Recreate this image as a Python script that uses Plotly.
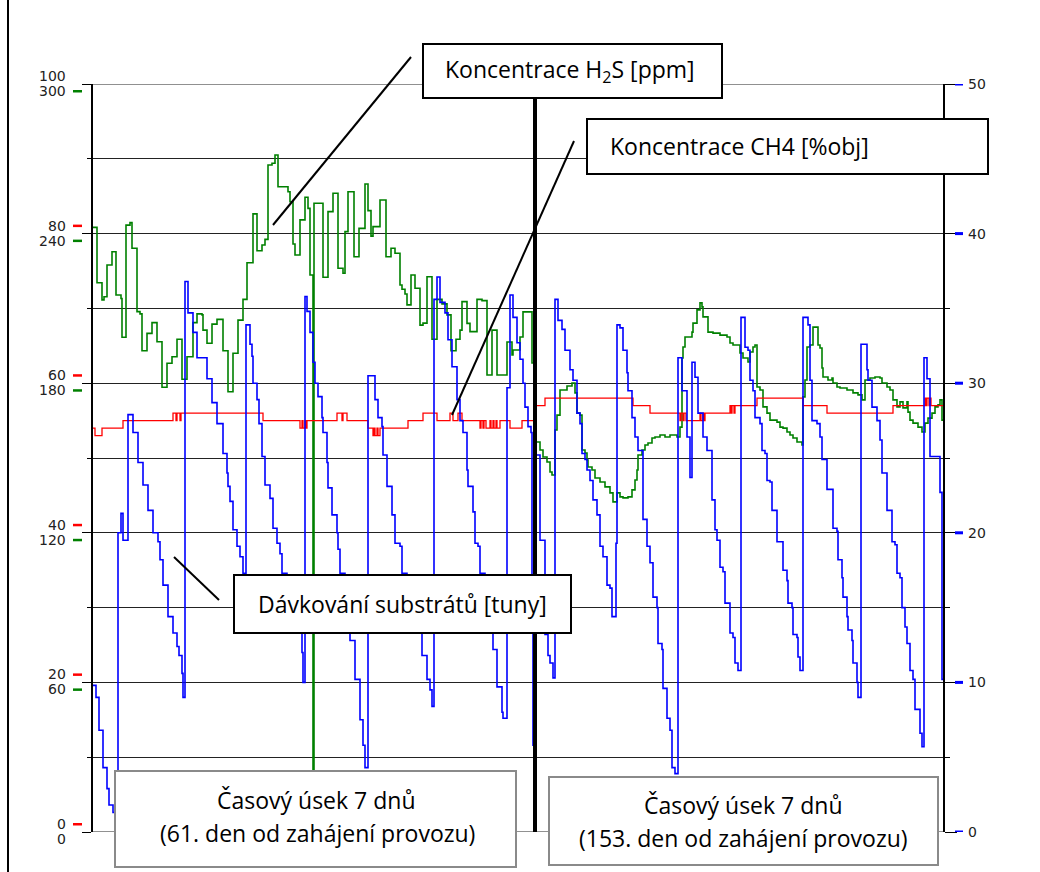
import plotly.graph_objects as go

W, H = 1040, 872

# ---------------- data ----------------
# time axis: sample index across two 7-day windows (divider at t = 442)
DIVIDER_T = 442

# Dávkování substrátů [tuny] (right axis, 0-50)
blue_t = [0, 3, 6, 10, 14, 16, 20, 23, 25, 28, 30, 35, 40, 45, 50, 55, 60, 65, 67, 70,
          75, 80, 84, 86, 89, 90, 92, 95, 100, 104, 114, 119, 124, 130, 134, 135, 137, 140, 144, 147,
          150, 152, 153, 157, 159, 160, 164, 166, 169, 172, 177, 180, 184, 187, 189, 194, 199, 204, 209, 210,
          212, 214, 217, 220, 222, 225, 229, 230, 234, 235, 239, 244, 245, 247, 252, 257, 262, 267, 270, 272,
          275, 282, 285, 289, 290, 294, 299, 302, 307, 309, 314, 319, 324, 329, 334, 337, 339, 341, 344, 347,
          352, 355, 359, 364, 367, 370, 374, 375, 380, 382, 385, 387, 392, 395, 400, 404, 409, 410, 414, 417,
          420, 424, 427, 430, 432, 435, 438, 439, 440, 443, 447, 452, 455, 457, 460, 462, 465, 469, 472, 477,
          480, 484, 487, 489, 492, 494, 497, 500, 504, 507, 510, 514, 517, 519, 523, 524, 527, 530, 534, 535,
          539, 542, 545, 550, 554, 557, 560, 564, 565, 569, 570, 574, 577, 579, 582, 585, 589, 594, 597, 599,
          602, 605, 610, 614, 619, 622, 624, 627, 630, 632, 637, 640, 642, 645, 648, 652, 655, 657, 660, 662,
          667, 669, 672, 674, 677, 679, 684, 690, 694, 695, 699, 700, 704, 705, 707, 710, 715, 717, 719, 724,
          727, 729, 734, 740, 744, 745, 749, 750, 754, 755, 759, 760, 764, 765, 768, 774, 775, 779, 784, 787,
          789, 794, 799, 802, 804, 807, 809, 812, 814, 817, 820, 822, 827, 829, 831, 834, 837, 847, 849, 850]
blue_v = [9.8, 9.0, 6.8, 4.3, 2.9, 1.8, 1.3, 0.8, 20.0, 21.3, 19.5, 27.9, 26.7, 24.7, 23.2, 21.5, 20.0, 19.4, 18.2, 16.5,
          14.4, 13.3, 12.4, 11.8, 10.6, 9.0, 36.8, 34.7, 33.4, 31.7, 30.3, 28.7, 27.3, 25.3, 24.0, 23.1, 22.1, 20.2, 19.1, 18.4,
          17.3, 15.5, 33.9, 32.6, 31.8, 30.0, 28.9, 27.3, 25.1, 23.2, 22.3, 20.3, 19.3, 18.6, 17.3, 15.5, 14.2, 13.3, 12.0, 10.0,
          35.8, 34.8, 33.4, 31.4, 30.0, 29.1, 27.7, 26.7, 24.7, 23.0, 21.2, 20.0, 18.9, 17.3, 15.5, 12.8, 10.2, 7.5, 5.8, 4.3,
          30.5, 28.9, 27.7, 27.1, 25.2, 23.1, 21.2, 19.3, 19.1, 17.3, 15.5, 14.2, 13.3, 11.8, 10.2, 9.5, 8.4, 35.6, 37.1, 35.4,
          34.7, 32.9, 31.1, 28.9, 27.5, 26.7, 24.2, 23.1, 21.4, 19.3, 19.1, 17.3, 15.5, 13.3, 12.2, 9.7, 8.0, 7.6, 29.7, 35.9,
          34.4, 32.7, 31.6, 30.0, 28.4, 27.1, 26.7, 15.5, 5.8, 25.2, 19.5, 13.2, 11.8, 11.3, 10.3, 35.6, 34.2, 33.6, 32.2, 30.9,
          30.2, 28.0, 27.3, 25.3, 24.9, 24.2, 23.5, 22.2, 21.2, 19.1, 18.4, 16.5, 16.3, 14.4, 19.3, 33.9, 33.7, 32.2, 30.7, 29.5,
          27.7, 26.4, 25.5, 20.9, 19.1, 18.0, 15.7, 15.0, 12.6, 12.2, 9.6, 7.6, 6.8, 4.3, 3.9, 31.7, 29.5, 26.4, 23.7, 31.4,
          30.4, 28.0, 26.4, 25.5, 22.2, 20.2, 19.5, 17.7, 17.4, 15.3, 13.3, 13.0, 11.3, 10.8, 34.4, 32.4, 32.2, 30.2, 29.5, 27.7,
          27.3, 25.5, 25.3, 23.5, 23.4, 21.5, 19.4, 17.5, 16.8, 15.3, 15.0, 13.2, 13.0, 11.7, 10.8, 34.4, 33.9, 30.2, 27.5, 27.3,
          26.4, 24.9, 22.9, 20.3, 20.1, 18.2, 17.0, 15.7, 14.4, 13.5, 12.8, 11.3, 10.0, 9.0, 32.6, 30.9, 30.2, 28.4, 27.5, 26.2,
          24.0, 21.5, 19.4, 19.2, 17.3, 17.0, 15.0, 13.7, 12.6, 10.8, 10.2, 8.2, 6.6, 5.7, 31.7, 30.3, 25.1, 22.7, 10.2, 10.2]

# Koncentrace H2S [ppm] (left green axis, 0-300)
green_t = [0, 4, 9, 11, 14, 19, 23, 28, 29, 33, 37, 39, 44, 47, 49, 54, 59, 64, 69, 74,
           79, 84, 89, 94, 100, 104, 109, 110, 114, 119, 124, 130, 135, 140, 145, 150, 154, 160, 164, 169,
           172, 175, 179, 182, 185, 195, 197, 200, 202, 207, 212, 215, 217, 220, 221, 230, 235, 240, 245, 250,
           252, 255, 261, 266, 272, 275, 278, 280, 287, 293, 298, 302, 307, 309, 312, 314, 318, 322, 327, 330,
           334, 339, 344, 349, 354, 358, 363, 367, 369, 374, 377, 384, 389, 394, 399, 404, 414, 419, 420, 427,
           430, 439, 442, 447, 450, 454, 457, 459, 462, 464, 467, 474, 479, 482, 484, 487, 489, 492, 494, 495,
           499, 502, 507, 512, 517, 520, 524, 527, 530, 535, 539, 542, 544, 545, 549, 552, 555, 559, 562, 567,
           572, 577, 584, 587, 589, 590, 592, 599, 600, 604, 607, 609, 610, 615, 620, 627, 634, 637, 640, 647,
           650, 655, 657, 660, 662, 664, 667, 670, 674, 677, 684, 687, 690, 694, 697, 700, 704, 709, 710, 712,
           714, 717, 720, 725, 727, 729, 730, 735, 739, 740, 744, 747, 754, 760, 765, 769, 772, 777, 782, 787,
           789, 794, 797, 800, 804, 807, 810, 814, 815, 817, 820, 825, 829, 832, 835, 839, 842, 845, 847, 849, 850]
green_v = [242.5, 220.3, 213.4, 214.7, 227.4, 232.7, 215.4, 214.0, 198.4, 243.4, 244.4, 234.1, 208.7, 207.8, 193.0, 200.0, 204.3, 196.6, 178.4, 188.0,
           190.6, 197.6, 181.6, 190.6, 204.3, 207.8, 207.4, 201.3, 196.0, 203.7, 205.6, 193.0, 176.6, 192.0, 205.3, 213.6, 228.3, 247.9, 233.1, 235.4,
           237.7, 267.5, 268.2, 271.5, 258.8, 256.8, 252.8, 235.8, 231.4, 245.5, 254.6, 250.1, 223.4, 0.0, 252.2, 222.5, 248.8, 256.2, 226.1, 224.1,
           240.8, 256.8, 230.7, 242.1, 259.9, 249.2, 239.0, 242.8, 253.5, 230.7, 234.1, 232.1, 219.4, 217.7, 215.8, 211.4, 223.4, 218.1, 203.3, 204.1,
           222.7, 197.6, 213.6, 211.8, 207.4, 193.0, 197.6, 201.3, 212.7, 204.0, 200.7, 213.6, 213.1, 183.3, 201.3, 183.3, 196.5, 191.3, 193.3, 198.5,
           208.6, 188.1, 156.4, 153.2, 150.4, 148.4, 144.4, 143.2, 161.2, 167.2, 177.3, 178.9, 180.1, 176.1, 168.0, 167.2, 153.2, 152.0, 149.2, 146.4,
           145.2, 142.0, 140.4, 138.4, 136.0, 132.4, 136.0, 134.4, 134.0, 134.4, 137.2, 141.2, 145.2, 151.2, 153.2, 155.2, 156.0, 158.0, 158.4, 159.2,
           158.4, 159.2, 158.4, 162.4, 190.1, 194.5, 198.5, 200.5, 204.1, 209.4, 212.2, 210.6, 206.6, 200.5, 200.1, 199.3, 198.5, 196.1, 195.3, 192.1,
           190.1, 188.5, 192.5, 194.5, 195.3, 178.5, 177.3, 170.5, 168.0, 165.2, 164.4, 162.4, 162.0, 160.4, 159.2, 158.0, 156.4, 155.2, 174.5, 181.3,
           194.5, 195.3, 202.5, 195.3, 194.1, 186.1, 182.5, 181.3, 182.1, 180.1, 178.5, 178.1, 177.3, 176.1, 175.3, 173.3, 181.3, 182.1, 182.5, 182.1,
           180.1, 178.5, 177.3, 173.3, 170.5, 172.5, 170.1, 172.5, 168.4, 165.2, 164.0, 162.4, 160.4, 164.0, 166.0, 168.0, 170.5, 171.3, 173.3, 165.2, 165.2]

# Koncentrace CH4 [%obj] (left red axis, 0-100)
red_t = [0, 2, 9, 30, 80, 83, 84, 87, 88, 170, 207, 209, 210, 212, 213, 214, 244, 249, 250, 254,
         275, 280, 281, 282, 284, 285, 287, 315, 330, 344, 357, 360, 365, 369, 387, 388, 390, 391, 393, 397,
         398, 400, 401, 403, 404, 407, 417, 429, 442, 452, 540, 557, 587, 588, 590, 591, 593, 607, 608, 610,
         611, 612, 637, 638, 639, 641, 642, 664, 710, 734, 800, 832, 833, 834, 836, 837, 838, 850]
red_v = [54, 53, 54, 55, 56, 55, 56, 55, 56, 55, 54, 55, 54, 55, 54, 55, 56, 55, 56, 55,
         54, 53, 54, 53, 54, 53, 54, 55, 56, 55, 56, 55, 56, 55, 54, 55, 54, 55, 54, 55,
         54, 55, 54, 55, 54, 55, 54, 55, 57, 58, 57, 56, 55, 56, 55, 56, 55, 56, 55, 56,
         55, 56, 57, 56, 57, 56, 57, 58, 57, 56, 57, 58, 57, 58, 57, 58, 57, 57]

# axis tick labels
red_ticks = [0, 20, 40, 60, 80, 100]
green_ticks = [0, 60, 120, 180, 240, 300]
blue_ticks = [0, 10, 20, 30, 40, 50]

# callout texts
label_h2s = "Koncentrace H<sub>2</sub>S [ppm]"
label_ch4 = "Koncentrace CH4 [%obj]"
label_dose = "Dávkování substrátů [tuny]"
window_lines_1 = ["Časový úsek 7 dnů", "(61. den od zahájení provozu)"]
window_lines_2 = ["Časový úsek 7 dnů", "(153. den od zahájení provozu)"]

# ---------------- layout helpers ----------------
def fx(x):
    return x / W


def fy(y):
    return 1 - y / H


PLOT_L, PLOT_R, PLOT_T, PLOT_B = 93, 943, 84, 832
TEXT_FONT = "Open Sans"
TEXT_SIZE = 23
TICK_FONT = "DejaVu Sans"
TICK_SIZE = 14

fig = go.Figure()

fig.add_trace(go.Scatter(x=blue_t, y=blue_v, mode="lines", line=dict(color="#0000FF", width=1.6, shape="hv"),
                         yaxis="y3", hoverinfo="skip", showlegend=False))
fig.add_trace(go.Scatter(x=red_t, y=red_v, mode="lines", line=dict(color="#FF0000", width=1.3, shape="hv"),
                         yaxis="y2", hoverinfo="skip", showlegend=False))
fig.add_trace(go.Scatter(x=green_t, y=green_v, mode="lines", line=dict(color="#008000", width=1.6, shape="hv"),
                         yaxis="y", hoverinfo="skip", showlegend=False))

shapes = []
annotations = []

# top and bottom grid lines (range edges)
for v in (0, 50):
    shapes.append(dict(type="line", xref="x", yref="y3", x0=0, x1=850, y0=v, y1=v,
                       line=dict(color="#222", width=1), layer="below"))

# thick divider between the two windows
shapes.append(dict(type="line", xref="x", yref="y3", x0=DIVIDER_T, x1=DIVIDER_T, y0=0, y1=49.7,
                   line=dict(color="black", width=4), layer="above"))

# left axis labels with coloured markers
for v in red_ticks:
    annotations.append(dict(xref="paper", yref="y2", x=fx(68), y=v, yshift=8, text=str(v), showarrow=False,
                            xanchor="right", yanchor="middle",
                            font=dict(family=TICK_FONT, size=TICK_SIZE, color="#222")))
    shapes.append(dict(type="rect", xref="paper", yref="y2", x0=fx(73), x1=fx(82), ysizemode="pixel",
                       yanchor=v, y0=6.5, y1=9, fillcolor="#FF0000", line=dict(width=0)))
for v in green_ticks:
    annotations.append(dict(xref="paper", yref="y", x=fx(68), y=v, yshift=-7, text=str(v), showarrow=False,
                            xanchor="right", yanchor="middle",
                            font=dict(family=TICK_FONT, size=TICK_SIZE, color="#222")))
    shapes.append(dict(type="rect", xref="paper", yref="y", x0=fx(73), x1=fx(82), ysizemode="pixel",
                       yanchor=v, y0=-8.5, y1=-6, fillcolor="#008000", line=dict(width=0)))
# right axis labels
for v in blue_ticks:
    annotations.append(dict(xref="paper", yref="y3", x=fx(966), y=v, text=str(v), showarrow=False,
                            xanchor="left", yanchor="middle",
                            font=dict(family=TICK_FONT, size=TICK_SIZE, color="#222")))
    shapes.append(dict(type="rect", xref="paper", yref="y3", x0=fx(955), x1=fx(963), ysizemode="pixel",
                       yanchor=v, y0=-1.5, y1=1.5, fillcolor="#0000FF", line=dict(width=0)))

# pointer lines for the callouts
for (x0, y0, x1, y1) in [(411, 57, 273, 225), (574, 141, 452, 415), (174, 557, 219, 600)]:
    shapes.append(dict(type="line", xref="paper", yref="paper", x0=fx(x0), y0=fy(y0), x1=fx(x1), y1=fy(y1),
                       line=dict(color="black", width=2), layer="above"))


# callout boxes
def box(x0, y0, x1, y1, color, width):
    shapes.append(dict(type="rect", xref="paper", yref="paper", x0=fx(x0), x1=fx(x1), y0=fy(y1), y1=fy(y0),
                       fillcolor="white", line=dict(color=color, width=width), layer="above"))


def text(x, y, s, size=TEXT_SIZE):
    annotations.append(dict(xref="paper", yref="paper", x=fx(x), y=fy(y), text=s, showarrow=False,
                            xanchor="center", yanchor="middle",
                            font=dict(family=TEXT_FONT, size=size, color="black")))


box(423, 44, 722, 98, "black", 2)
text(570, 70, label_h2s)
box(587, 119, 988, 174, "black", 2)
text(739, 146, label_ch4)
box(234, 575, 571, 633, "black", 2)
text(402, 604, label_dose)
box(115, 771, 516, 867, "#8a8a8a", 2)
text(316, 800, window_lines_1[0])
text(317, 833, window_lines_1[1])
box(549, 777, 938, 865, "#8a8a8a", 2)
text(743, 805, window_lines_2[0])
text(743, 838, window_lines_2[1])

# outer frame edge
shapes.append(dict(type="line", xref="paper", yref="paper", x0=fx(8), x1=fx(8), y0=0, y1=1,
                   line=dict(color="black", width=2), layer="above"))

ydom = [fy(PLOT_B), fy(PLOT_T)]
fig.update_layout(
    width=W, height=H, margin=dict(l=0, r=0, t=0, b=0),
    paper_bgcolor="white", plot_bgcolor="white",
    xaxis=dict(domain=[fx(PLOT_L), fx(PLOT_R)], range=[0, 850], visible=False),
    yaxis=dict(domain=ydom, range=[0, 300], side="left", showline=True, linecolor="black", linewidth=1.5,
               ticks="outside", ticklen=9, tickcolor="black", tickwidth=1, tickvals=green_ticks,
               showticklabels=False, showgrid=False, zeroline=False,
               minor=dict(ticks="outside", ticklen=4, tickcolor="black", dtick=30, showgrid=False)),
    yaxis2=dict(overlaying="y", range=[0, 100], visible=False),
    yaxis3=dict(overlaying="y", side="right", range=[0, 50], showline=True, linecolor="black", linewidth=1.5,
                ticks="outside", ticklen=12, tickcolor="black", tickwidth=1, tickvals=blue_ticks,
                showticklabels=False, showgrid=True, gridcolor="#222", gridwidth=1, zeroline=False,
                minor=dict(ticks="outside", ticklen=5, tickcolor="black", dtick=5, showgrid=True,
                           gridcolor="#222", gridwidth=1)),
    shapes=shapes, annotations=annotations,
)

fig.write_html("out.html")
